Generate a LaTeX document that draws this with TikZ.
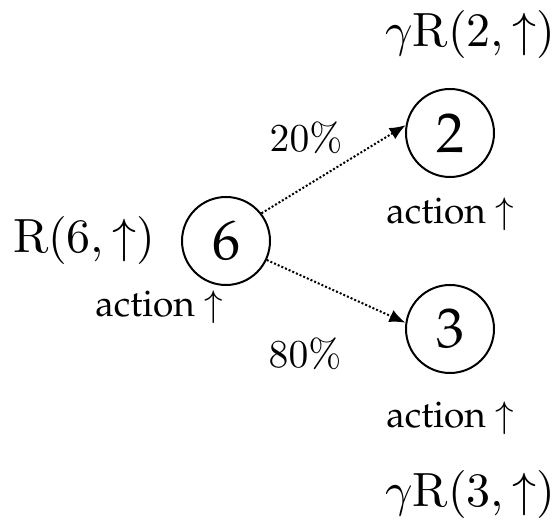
\documentclass[tikz,border=0pt]{standalone}
\usepackage[T1,TU]{fontenc}
\usetikzlibrary{arrows.meta}
\newcommand\palfont{\fontencoding{T1}\fontfamily{ppl}\selectfont}
\tikzset{
  state/.style={circle, draw, line width=1pt, minimum size=44pt, inner sep=0pt, font=\palfont\fontsize{28}{32}\selectfont},
  lbl/.style={inner sep=0pt, font=\fontsize{10}{12}\selectfont, scale=2.4},
  pct/.style={inner sep=0pt, font=\fontsize{10}{12}\selectfont, scale=1.98},
  plbl/.style={inner sep=0pt, font=\palfont\fontsize{10}{12}\selectfont, scale=1.85},
  trans/.style={densely dotted, line width=1pt, -{Latex[length=8pt,width=6.5pt]}}
}
\begin{document}
\begin{tikzpicture}[x=0.5pt,y=0.5pt]
\useasboundingbox (0,0) rectangle (556,523);
\node[state] (n6) at (226,282) {6};
\node[state] (n2) at (450,390) {2};
\node[state] (n3) at (450,194) {3};
\node[lbl] (r6) at (84,282) {$\mathrm{R}(6,\uparrow)$};
\node[plbl] (a6) at (159,216) {action $\uparrow$};
\node[plbl] (a2) at (450,309) {action $\uparrow$};
\node[plbl] (a3) at (450,105) {action $\uparrow$};
\node[pct] (p20) at (306,385) {$20\%$};
\node[pct] (p80) at (305,169) {$80\%$};
\node[lbl] (g2) at (470,488) {$\gamma\mathrm{R}(2,\uparrow)$};
\node[lbl] (g3) at (470,28) {$\gamma\mathrm{R}(3,\uparrow)$};
\draw[trans] (n6.38) -- (n2.170);
\draw[trans] (n6.-25) -- (n3.172);
\end{tikzpicture}
\end{document}
